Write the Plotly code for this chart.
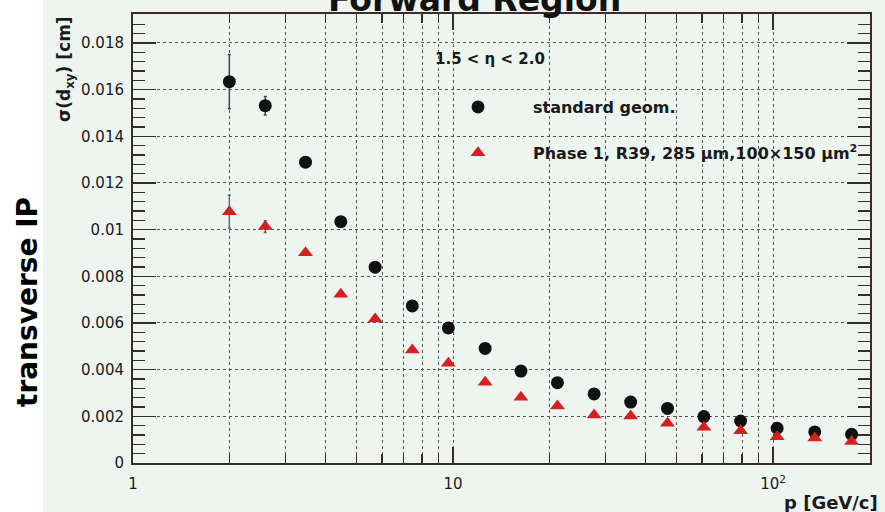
import plotly.graph_objects as go

# ---- data ----
p_values = [2.0, 2.59, 3.46, 4.46, 5.71, 7.46, 9.67, 12.6, 16.3, 21.2,
            27.6, 35.9, 46.8, 60.8, 79.2, 103, 135, 176]
std_sigma = [0.01634, 0.01531, 0.01289, 0.01034, 0.00839, 0.00673, 0.00579,
             0.00491, 0.00394, 0.00344, 0.00296, 0.00261, 0.00234, 0.00199,
             0.00180, 0.00149, 0.00133, 0.00123]
std_err = [0.00116, 0.00040, 0.00012, 0.00010, 0.00008, 0.00006, 0.00005,
           0.00004, 0.00004, 0.00003, 0.00003, 0.00003, 0.00002, 0.00002,
           0.00002, 0.00002, 0.00002, 0.00002]
ph1_sigma = [0.01077, 0.01013, 0.00901, 0.00723, 0.00617, 0.00484, 0.00427,
             0.00346, 0.00282, 0.00244, 0.00206, 0.00201, 0.00170, 0.00153,
             0.00138, 0.00113, 0.00107, 0.00092]
ph1_err = [0.00070, 0.00025, 0.00010, 0.00008, 0.00006, 0.00005, 0.00004,
           0.00004, 0.00003, 0.00003, 0.00003, 0.00002, 0.00002, 0.00002,
           0.00002, 0.00002, 0.00002, 0.00002]

x_major_vals = [1, 10, 100]
x_major_text = ["1", "10", "10<sup>2</sup>"]
x_minor_vals = [2, 3, 4, 5, 6, 7, 8, 9, 20, 30, 40, 50, 60, 70, 80, 90, 200]
y_tick_vals = [0, 0.002, 0.004, 0.006, 0.008, 0.010, 0.012, 0.014, 0.016, 0.018]
y_tick_text = ["0", "0.002", "0.004", "0.006", "0.008", "0.01", "0.012",
               "0.014", "0.016", "0.018"]

series_names = ["<b>standard geom.</b>",
                "<b>Phase 1, R39, 285 \u03bcm,100\u00d7150 \u03bcm<sup>2</sup></b>"]

BG = "#eef5f1"
FONT = "DejaVu Sans"
AXIS_COL = "#3a2c2c"

fig = go.Figure()
fig.add_trace(go.Scatter(
    x=p_values, y=std_sigma, mode="markers", name=series_names[0],
    legendgroup="a",
    marker=dict(symbol="circle", size=13, color="#111111"),
    error_y=dict(type="data", array=std_err, color="#444444", thickness=1.5, width=1.5),
))
fig.add_trace(go.Scatter(
    x=p_values, y=ph1_sigma, mode="markers", name=series_names[1],
    legendgroup="b",
    marker=dict(symbol="triangle-up", size=13, color="#d42020"),
    error_y=dict(type="data", array=ph1_err, color="#666666", thickness=1.5, width=1.5),
))

L, R, T, B = 133, 15, 14, 49
W, H = 885, 512
pw, ph = W - L - R, H - T - B

def px_x(x):
    return (x - L) / pw

def px_y(y):
    return (H - B - y) / ph

fig.update_layout(
    width=W, height=H,
    margin=dict(l=L, r=R, t=T, b=B, pad=0),
    paper_bgcolor=BG, plot_bgcolor=BG,
    font=dict(family=FONT, color="#1a1a1a"),
    showlegend=True,
    hovermode=False,
    legend=dict(
        x=px_x(423), y=px_y(90), xanchor="left", yanchor="top",
        bgcolor="rgba(0,0,0,0)", borderwidth=0,
        font=dict(family=FONT, size=16, color="#1a1a1a"),
        traceorder="grouped", tracegroupgap=22, itemwidth=100,
    ),
    xaxis=dict(
        type="log", range=[0, 2.303],
        tickvals=x_major_vals, ticktext=x_major_text,
        ticks="inside", ticklen=16, tickwidth=1.5, tickcolor=AXIS_COL,
        showline=True, linecolor=AXIS_COL, linewidth=2, mirror="ticks",
        showgrid=True, gridcolor="#555555", griddash="dot", gridwidth=1,
        zeroline=False,
        tickfont=dict(family=FONT, size=15, color="#1a1a1a"),
        ticklabelstandoff=6,
        minor=dict(tickvals=x_minor_vals, ticks="inside", ticklen=9,
                   tickwidth=1.2, tickcolor=AXIS_COL,
                   showgrid=True, gridcolor="#555555", griddash="dot", gridwidth=1),
    ),
    yaxis=dict(
        range=[0, 0.01924],
        tickvals=y_tick_vals, ticktext=y_tick_text,
        ticks="inside", ticklen=23, tickwidth=1.5, tickcolor=AXIS_COL,
        showline=True, linecolor=AXIS_COL, linewidth=2, mirror="ticks",
        showgrid=True, gridcolor="#555555", griddash="dot", gridwidth=1,
        zeroline=False,
        tickfont=dict(family=FONT, size=15, color="#1a1a1a"),
        ticklabelstandoff=4,
        minor=dict(dtick=0.0004, tick0=0, ticks="inside", ticklen=12,
                   tickwidth=1.2, tickcolor=AXIS_COL, showgrid=False),
    ),
    shapes=[
        dict(type="rect", xref="paper", yref="paper",
             x0=px_x(-5), x1=px_x(43), y0=px_y(520), y1=px_y(-5),
             fillcolor="white", line=dict(width=0), layer="below"),
    ],
    annotations=[
        dict(text="<b>Forward Region</b>", xref="paper", yref="paper",
             x=px_x(474), y=px_y(21), xanchor="center", yanchor="bottom",
             showarrow=False, font=dict(family=FONT, size=33, color="#111111")),
        dict(text="<b>1.5 &lt; \u03b7 &lt; 2.0</b>", xref="paper", yref="paper",
             x=px_x(433), y=px_y(59), xanchor="left", yanchor="middle",
             showarrow=False, font=dict(family=FONT, size=15, color="#1a1a1a")),
        dict(text="<b>\u03c3(d<sub>xy</sub>) [cm]</b>", xref="paper", yref="paper",
             x=px_x(65), y=1, xanchor="center", yanchor="top", textangle=-90,
             showarrow=False, font=dict(family=FONT, size=17, color="#1a1a1a")),
        dict(text="<b>transverse IP</b>", xref="paper", yref="paper",
             x=px_x(28), y=px_y(302), xanchor="center", yanchor="middle", textangle=-90,
             showarrow=False, font=dict(family=FONT, size=28, color="#000000")),
        dict(text="<b>p [GeV/c]</b>", xref="paper", yref="paper",
             x=px_x(880), y=px_y(502), xanchor="right", yanchor="middle",
             showarrow=False, font=dict(family=FONT, size=18, color="#1a1a1a")),
    ],
)

fig.write_html("out.html",
               config={"displayModeBar": False, "staticPlot": True},
               post_script="document.body.style.margin='0';document.body.style.padding='0';")
